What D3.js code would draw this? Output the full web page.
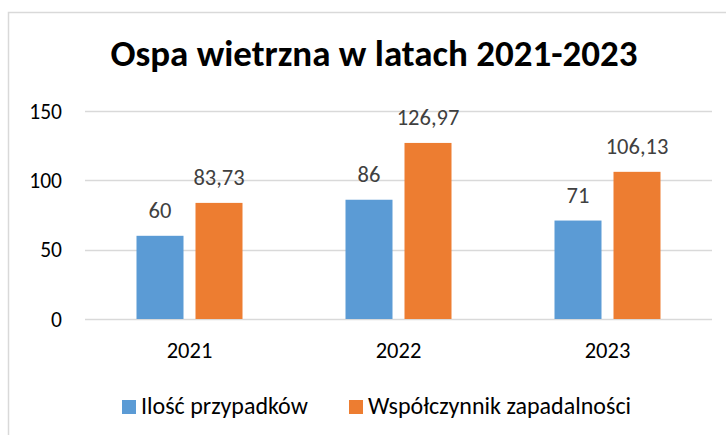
<!DOCTYPE html>
<html>
<head>
<meta charset="utf-8">
<script src="https://cdn.jsdelivr.net/npm/d3@7"></script>
<style>
  body { margin: 0; background: #fff; }
  svg text { font-family: Carlito, Calibri, Lato, sans-serif; }
</style>
</head>
<body>
<script>
// chart data
var years = ["2021", "2022", "2023"];
var seriesNames = ["Ilość przypadków", "Współczynnik zapadalności"];
var cases = [60, 86, 71];
var incidence = [83.73, 126.97, 106.13];
var caseLabels = ["60", "86", "71"];
var incidenceLabels = ["83,73", "126,97", "106,13"];
var yTicks = [0, 50, 100, 150];
var colors = ["#5B9BD5", "#ED7D31"];

var W = 726, H = 435;
var svg = d3.select("body").append("svg")
  .attr("width", W).attr("height", H);

// outer chart border (right/bottom edges are cut off in the original)
svg.append("rect")
  .attr("x", 8.5).attr("y", 12.5)
  .attr("width", W + 10).attr("height", H + 10)
  .attr("fill", "#fff").attr("stroke", "#d9d9d9").attr("stroke-width", 1.5);

svg.append("text")
  .attr("x", 374).attr("y", 66)
  .attr("text-anchor", "middle")
  .attr("font-size", 37).attr("font-weight", "bold")
  .attr("fill", "#000")
  .text("Ospa wietrzna w latach 2021-2023");

var x0 = d3.scaleBand().domain(years).range([85, 712]);
var y = d3.scaleLinear().domain([0, 150]).range([319, 111]);

// gridlines
svg.append("g").selectAll("line").data(yTicks).join("line")
  .attr("x1", 85).attr("x2", 712)
  .attr("y1", d => Math.round(y(d)) + 0.5)
  .attr("y2", d => Math.round(y(d)) + 0.5)
  .attr("stroke", "#d9d9d9").attr("stroke-width", 1.5);

svg.append("g").selectAll("text").data(yTicks).join("text")
  .attr("x", 62).attr("y", d => y(d) + 7.5)
  .attr("text-anchor", "end")
  .attr("font-size", 21.5).attr("fill", "#000")
  .text(d => d);

var rows = years.map((yr, i) => ({
  year: yr,
  vals: [
    {s: 0, v: cases[i], lab: caseLabels[i]},
    {s: 1, v: incidence[i], lab: incidenceLabels[i]}
  ]
}));

var barW = 47, gap = 12;
var x1 = d3.scaleBand().domain([0, 1])
  .range([0, barW * 2 + gap])
  .paddingInner(gap / (barW + gap));

var groups = svg.append("g").selectAll("g").data(rows).join("g")
  .attr("transform", d => "translate(" + (x0(d.year) + x0.bandwidth() / 2 - barW - gap / 2) + ",0)");

groups.selectAll("rect").data(d => d.vals).join("rect")
  .attr("x", d => x1(d.s))
  .attr("y", d => y(d.v))
  .attr("width", x1.bandwidth())
  .attr("height", d => y(0) - y(d.v))
  .attr("fill", d => colors[d.s]);

groups.selectAll("text").data(d => d.vals).join("text")
  .attr("x", d => x1(d.s) + x1.bandwidth() / 2)
  .attr("y", d => y(d.v) - 18)
  .attr("text-anchor", "middle")
  .attr("font-size", 22.5).attr("fill", "#404040")
  .text(d => d.lab);

svg.append("g").selectAll("text").data(years).join("text")
  .attr("x", d => x0(d) + x0.bandwidth() / 2)
  .attr("y", 358)
  .attr("text-anchor", "middle")
  .attr("font-size", 22.5).attr("fill", "#000")
  .text(d => d);

// legend
var legX = [122, 349];
var leg = svg.append("g").selectAll("g").data(seriesNames).join("g")
  .attr("transform", (d, i) => "translate(" + legX[i] + ",400)");
leg.append("rect").attr("width", 14).attr("height", 14)
  .attr("fill", (d, i) => colors[i]);
leg.append("text").attr("x", 19).attr("y", 14)
  .attr("font-size", 24).attr("fill", "#000")
  .text(d => d);
</script>
</body>
</html>
